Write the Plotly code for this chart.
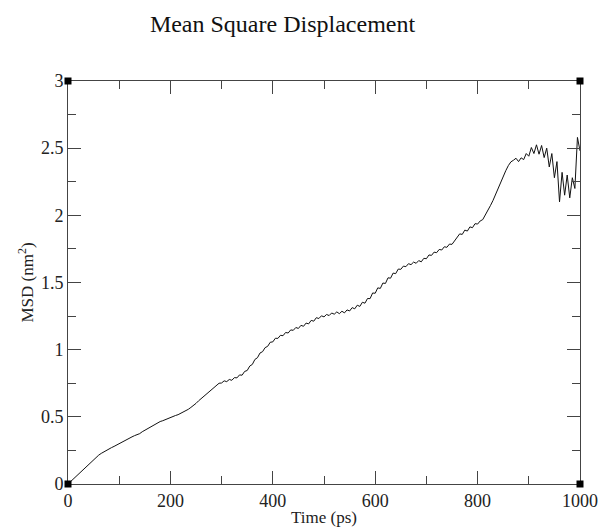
import plotly.graph_objects as go

# Time (ps), sampled every 5 ps
time_ps = [i * 5 for i in range(201)]

# MSD (nm^2)
msd = [
    0.000, 0.018, 0.035, 0.052, 0.070, 0.090, 0.110, 0.128, 0.145, 0.163,
    0.180, 0.198, 0.215, 0.228, 0.240, 0.251, 0.260, 0.271, 0.280, 0.291,
    0.300, 0.311, 0.320, 0.331, 0.340, 0.351, 0.360, 0.366, 0.375, 0.389,
    0.400, 0.413, 0.425, 0.436, 0.445, 0.456, 0.465, 0.471, 0.480, 0.486,
    0.495, 0.501, 0.510, 0.516, 0.525, 0.534, 0.545, 0.556, 0.570, 0.584,
    0.600, 0.619, 0.635, 0.654, 0.670, 0.687, 0.700, 0.717, 0.730, 0.750,
    0.752, 0.768, 0.762, 0.778, 0.772, 0.792, 0.790, 0.812, 0.810, 0.838,
    0.845, 0.878, 0.890, 0.927, 0.940, 0.975, 0.985, 1.015, 1.025, 1.055,
    1.058, 1.085, 1.084, 1.107, 1.104, 1.128, 1.124, 1.147, 1.144, 1.165,
    1.158, 1.181, 1.174, 1.198, 1.192, 1.218, 1.212, 1.238, 1.232, 1.252,
    1.244, 1.262, 1.254, 1.273, 1.264, 1.281, 1.268, 1.286, 1.274, 1.296,
    1.288, 1.313, 1.304, 1.331, 1.322, 1.353, 1.346, 1.381, 1.380, 1.422,
    1.420, 1.460, 1.456, 1.496, 1.493, 1.535, 1.532, 1.570, 1.566, 1.600,
    1.598, 1.622, 1.618, 1.640, 1.633, 1.652, 1.643, 1.663, 1.654, 1.680,
    1.677, 1.705, 1.702, 1.726, 1.722, 1.746, 1.742, 1.766, 1.762, 1.786,
    1.784, 1.810, 1.832, 1.862, 1.858, 1.890, 1.883, 1.914, 1.908, 1.938,
    1.935, 1.958, 1.968, 2.000, 2.030, 2.072, 2.110, 2.157, 2.200, 2.247,
    2.290, 2.332, 2.370, 2.398, 2.410, 2.425, 2.400, 2.428, 2.415, 2.460,
    2.440, 2.505, 2.460, 2.525, 2.455, 2.520, 2.430, 2.500, 2.360, 2.460,
    2.280, 2.400, 2.100, 2.320, 2.150, 2.300, 2.130, 2.280, 2.200, 2.580,
    2.480,
]

x_range = [0, 1000]
y_range = [0, 3]
title_text = "Mean Square Displacement"
x_title = "Time (ps)"
y_title = "MSD (nm<sup>2</sup>)"

FONT = "Liberation Serif, Times New Roman, serif"
AXC = "#444444"

W, H = 598, 527

fig = go.Figure()
fig.add_trace(go.Scatter(x=time_ps, y=msd, mode="lines",
                         line=dict(color="#111111", width=1), showlegend=False,
                         cliponaxis=False, hoverinfo="skip"))

common = dict(
    showline=True, linecolor=AXC, linewidth=1, mirror="allticks",
    ticks="inside", ticklen=13, tickwidth=1, tickcolor=AXC,
    showgrid=False, zeroline=False, automargin=False,
    tickfont=dict(family=FONT, size=18, color="#222222"),
)

fig.update_layout(
    width=W, height=H,
    margin=dict(l=68, r=18, t=81, b=43, autoexpand=False),
    paper_bgcolor="white", plot_bgcolor="white",
    title=dict(text=title_text, x=282.5 / W, xanchor="center",
               y=1 - 24 / H, yanchor="middle",
               font=dict(family=FONT, size=24, color="#111111")),
    xaxis=dict(range=x_range, dtick=200, tick0=0,
               minor=dict(dtick=100, ticklen=8, ticks="inside", tickcolor=AXC, showgrid=False),
               title=dict(text=x_title, standoff=2, font=dict(family=FONT, size=17, color="#222222")),
               **common),
    yaxis=dict(range=y_range, dtick=0.5, tick0=0,
               minor=dict(dtick=0.25, ticklen=8, ticks="inside", tickcolor=AXC, showgrid=False),
               title=dict(text=y_title, standoff=2, font=dict(family=FONT, size=17, color="#222222")),
               **common),
)

# corner handles
for cx in (0, 1):
    for cy in (0, 1):
        fig.add_shape(type="rect", xref="paper", yref="paper",
                      xsizemode="pixel", ysizemode="pixel",
                      xanchor=cx, yanchor=cy, x0=-3.5, x1=3.5, y0=-3.5, y1=3.5,
                      fillcolor="black", line=dict(width=0), layer="above")

fig.write_html(
    "out.html",
    config={"displayModeBar": False, "staticPlot": True},
    post_script="document.body.style.margin='0';document.body.style.overflow='hidden';",
)
